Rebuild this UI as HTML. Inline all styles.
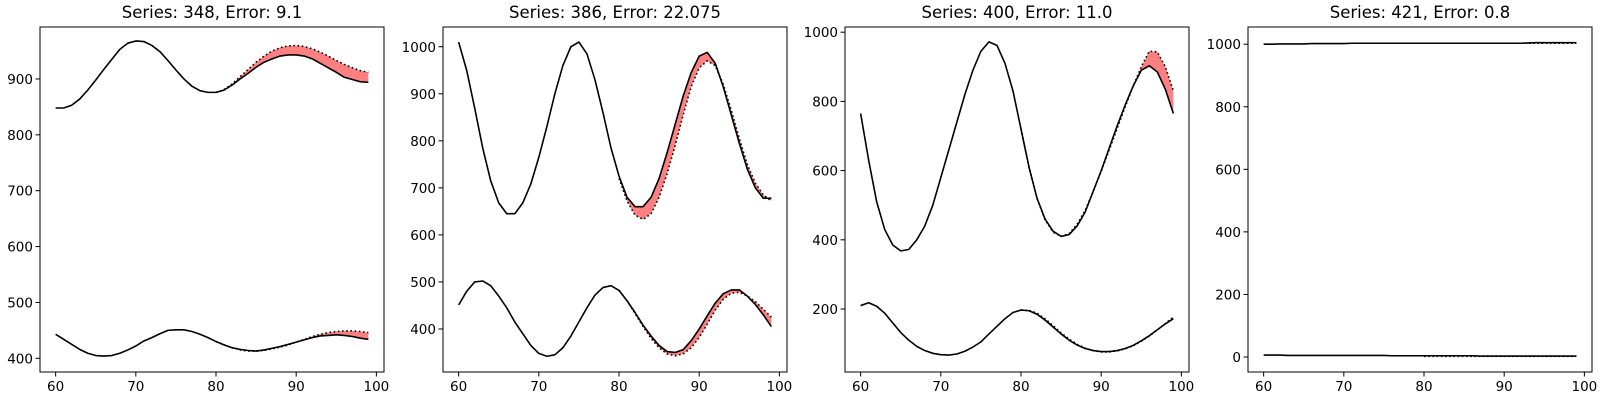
<!DOCTYPE html>
<html><head><meta charset="utf-8"><style>
html,body{margin:0;padding:0;background:#fff;}
svg{display:block;font-family:"DejaVu Sans","Liberation Sans",sans-serif;}
</style></head><body>
<svg id="chart" width="1600" height="400" viewBox="0 0 1600 400" xmlns="http://www.w3.org/2000/svg"></svg>
<script>
const xValues=[];for(let i=60;i<=99;i++)xValues.push(i);
const fcX=xValues.slice(20);
const titles=["Series: 348, Error: 9.1","Series: 386, Error: 22.075","Series: 400, Error: 11.0","Series: 421, Error: 0.8"];
const xTicks=[60,70,80,90,100];
const yTicks1=[400,500,600,700,800,900];
const yTicks2=[400,500,600,700,800,900,1000];
const yTicks3=[200,400,600,800,1000];
const yTicks4=[0,200,400,600,800,1000];
// panel 1
const p1TopActual=[848,848,853,864,880,898,917,935,953,964,968,967,960,949,933,916,900,887,879,876,876,880,889,900,910,921,930,936,941,943,943,941,936,928,920,912,903,899,895,894];
const p1TopForecast=[876,881,891,904,917,930,941,950,956,959,960,958,954,948,941,933,926,920,915,912];
const p1BotActual=[443,434,425,416,409,405,404,405,409,415,422,431,437,444,450,451,451,448,443,437,430,424,419,416,414,413,415,418,421,425,429,433,437,440,441,442,441,439,436,434];
const p1BotForecast=[430,424,419,415,413,413,414,417,420,424,429,434,439,443,446,448,449,449,448,446];
// panel 2
const p2TopActual=[1010,950,870,785,715,668,645,645,668,708,765,830,900,960,1000,1010,985,930,860,785,725,680,660,660,680,720,775,835,895,945,980,988,965,915,855,795,740,700,678,678];
const p2TopForecast=[720,672,642,633,645,680,730,790,855,915,955,970,960,920,865,805,750,710,685,672];
const p2BotActual=[451,480,500,502,492,470,445,415,390,365,348,342,345,360,385,415,445,472,488,492,482,460,435,408,385,365,352,350,356,375,400,428,455,475,483,483,470,452,430,405];
const p2BotForecast=[482,460,433,405,380,360,347,343,347,360,382,410,440,463,476,478,470,458,442,425];
// panel 3
const p3TopActual=[765,630,510,430,385,368,372,400,440,500,580,660,740,820,890,945,972,962,910,830,720,610,520,460,425,410,415,440,480,540,600,665,730,790,845,890,903,885,835,765];
const p3TopForecast=[720,610,520,458,422,410,418,445,485,540,598,660,722,785,845,900,945,943,900,830];
const p3BotActual=[210,218,208,188,160,132,110,92,80,72,68,67,70,78,90,105,128,150,172,190,197,195,185,168,148,128,110,96,86,80,77,77,80,86,95,108,123,140,157,172];
const p3BotForecast=[197,196,188,172,152,131,113,98,87,80,76,76,79,85,94,107,122,140,158,177];
// panel 4
const p4TopActual=[1000,1000,1001,1001,1001,1001,1002,1002,1002,1002,1002,1003,1003,1003,1003,1003,1003,1003,1003,1003,1003,1003,1003,1003,1003,1003,1003,1003,1003,1003,1003,1003,1003,1004,1005,1005,1005,1005,1005,1005];
const p4TopForecast=[1003,1003,1003,1003,1003,1003,1003,1003,1003,1003,1003,1003,1003,1003,1003,1003,1003,1003,1003,1003];
const p4BotActual=[6,6,6,5,5,5,5,5,5,5,5,5,5,5,5,5,4,4,4,4,4,4,4,4,4,4,4,3,3,3,3,3,3,3,3,3,3,3,3,3];
const p4BotForecast=[2,2,2,2,2,2,2,2,2,2,2,2,2,2,2,2,2,2,2,2];

const panels=[
 {left:40,yDom:[375.5,993],ticks:yTicks1,series:[[p1TopActual,p1TopForecast],[p1BotActual,p1BotForecast]]},
 {left:443,yDom:[308.5,1042],ticks:yTicks2,series:[[p2TopActual,p2TopForecast],[p2BotActual,p2BotForecast]]},
 {left:845,yDom:[18,1015],ticks:yTicks3,series:[[p3TopActual,p3TopForecast],[p3BotActual,p3BotForecast]]},
 {left:1248,yDom:[-48,1055],ticks:yTicks4,series:[[p4TopActual,p4TopForecast],[p4BotActual,p4BotForecast]]}
];
const NS="http://www.w3.org/2000/svg";
const svg=document.getElementById('chart');
const TOP=27,BOT=372,W=344,XD=[58.05,100.95];
function mk(tag,attrs,parent){const e=document.createElementNS(NS,tag);for(const k in attrs)e.setAttribute(k,attrs[k]);parent.appendChild(e);return e;}
panels.forEach((p,pi)=>{
  const g=mk('g',{},svg);
  
  
  const sx=v=>p.left+(v-XD[0])/(XD[1]-XD[0])*W;
  const sy=v=>BOT-(v-p.yDom[0])/(p.yDom[1]-p.yDom[0])*(BOT-TOP);
  const t=mk('text',{x:p.left+W/2,y:18,'text-anchor':'middle','font-size':'16.5',fill:'#000'},g);
  t.textContent=titles[pi];
  
  
  p.series.forEach((s,si)=>{
    const act=s[0],fc=s[1];
    let d='';
    fcX.forEach((x,i)=>{d+=(i?'L':'M')+sx(x).toFixed(2)+','+sy(fc[i]).toFixed(2);});
    for(let i=fcX.length-1;i>=0;i--){d+='L'+sx(fcX[i]).toFixed(2)+','+sy(act[i+20]).toFixed(2);}
    const f=mk('path',{d:d+'Z',fill:'#ff8080',stroke:'none'},g);
    
    
    const pa=act.map((v,i)=>sx(xValues[i]).toFixed(2)+','+sy(v).toFixed(2)).join(' ');
    const l=mk('polyline',{points:pa,fill:'none',stroke:'#000','stroke-width':'1.6','stroke-linejoin':'round'},g);
    
    
    const pf=fc.map((v,i)=>sx(fcX[i]).toFixed(2)+','+sy(v).toFixed(2)).join(' ');
    const lf=mk('polyline',{points:pf,fill:'none',stroke:'#000','stroke-width':'1.6','stroke-dasharray':'1.6,2.6'},g);
    
    
  });
  const fr=mk('rect',{x:p.left,y:TOP,width:W,height:BOT-TOP,fill:'none',stroke:'#000','stroke-width':'1'},g);
  
  
  xTicks.forEach(v=>{
    const x=sx(v);
    const tk=mk('line',{x1:x,x2:x,y1:BOT,y2:BOT+4.5,stroke:'#000','stroke-width':'1'},g);
    
    
    const tl=mk('text',{x:x,y:BOT+19,'text-anchor':'middle','font-size':'13.5',fill:'#000'},g);
    tl.textContent=v;
    
    
  });
  p.ticks.forEach(v=>{
    const y=sy(v);
    const tk=mk('line',{x1:p.left-4.5,x2:p.left,y1:y,y2:y,stroke:'#000','stroke-width':'1'},g);
    
    
    const tl=mk('text',{x:p.left-7,y:y+5,'text-anchor':'end','font-size':'13.5',fill:'#000'},g);
    tl.textContent=v;
    
    
  });
});
</script>
</body></html>
